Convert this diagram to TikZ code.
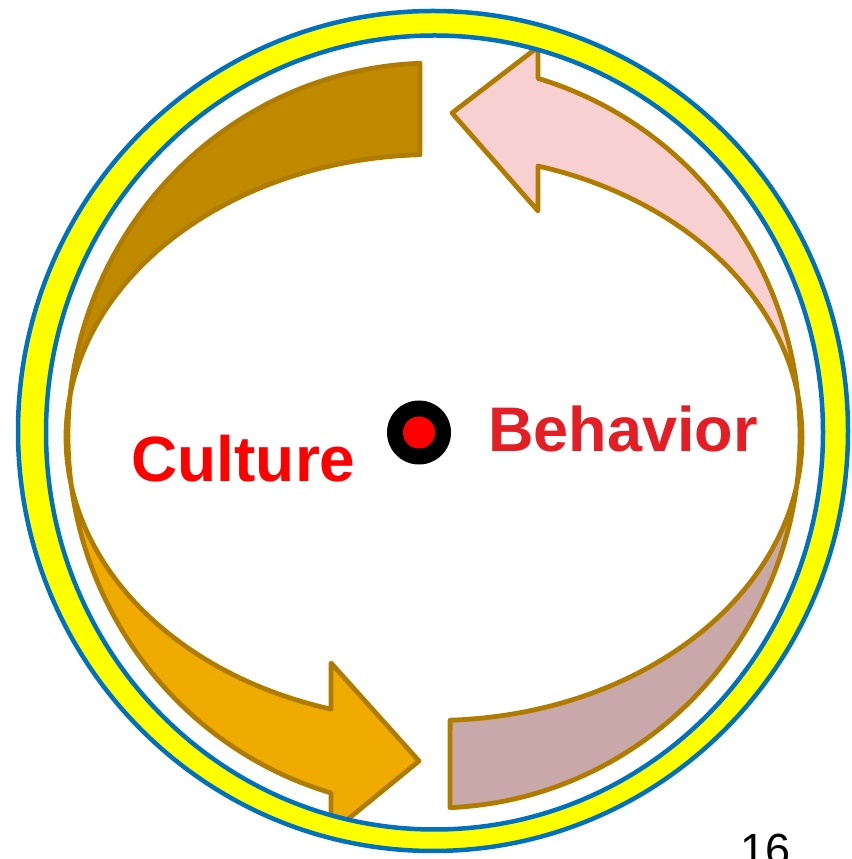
\documentclass[tikz,border=0pt]{standalone}
\usepackage{fontspec}
\setmainfont{Liberation Sans}
\usetikzlibrary{calc}

\definecolor{ringyellow}{HTML}{FFFF00}
\definecolor{ringblue}{HTML}{0070C0}
\definecolor{edgegold}{HTML}{B07C00}
\definecolor{darkgold}{HTML}{C08A00}
\definecolor{amber}{HTML}{F0AB00}
\definecolor{blush}{HTML}{F8D0D2}
\definecolor{mauve}{HTML}{C8A8A8}
\definecolor{culturered}{HTML}{FF0000}
\definecolor{behavred}{HTML}{E31E24}

\tikzset{
  piece/.style={draw=edgegold, line width=4.8pt, line join=round},
  ringline/.style={draw=ringblue, line width=4.5pt},
  label/.style={inner sep=0pt, anchor=base, font=\bfseries},
}

\begin{document}
\begin{tikzpicture}[x=1pt, y=1pt]
  \useasboundingbox (0,0) rectangle (851,859);

  % centres of the outer and inner arrow edges
  \coordinate (oc) at (434,423.5);
  \coordinate (ic) at (434,421.5);

  % upper left band
  \path[piece, fill=darkgold]
    ($(oc)+(92.19:366 and 372.5)$) arc[start angle=92.19, end angle=180, x radius=366, y radius=372.5]
    -- ($(ic)+(180:368 and 283)$) arc[start angle=180, end angle=92.18, x radius=368, y radius=283]
    -- cycle;

  % lower left arrow
  \path[piece, fill=amber]
    ($(oc)+(180:366 and 372.5)$) arc[start angle=180, end angle=253.66, x radius=366, y radius=372.5]
    -- (331,26) -- (419,98) -- (331,196)
    -- ($(ic)+(253.75:368 and 283)$) arc[start angle=253.75, end angle=180, x radius=368, y radius=283]
    -- cycle;

  % lower right band
  \path[piece, fill=mauve]
    ($(oc)+(272.5:366 and 372.5)$) arc[start angle=272.5, end angle=360, x radius=366, y radius=372.5]
    -- ($(ic)+(360:368 and 283)$) arc[start angle=360, end angle=272.51, x radius=368, y radius=283]
    -- cycle;

  % upper right arrow
  \path[piece, fill=blush]
    ($(oc)+(0:366 and 372.5)$) arc[start angle=0, end angle=73.49, x radius=366, y radius=372.5]
    -- (538,812) -- (452,746) -- (538,648)
    -- ($(ic)+(73.58:368 and 283)$) arc[start angle=73.58, end angle=0, x radius=368, y radius=283]
    -- cycle;

  % yellow ring with blue edges
  \path[fill=ringyellow, even odd rule]
    (433,428) ellipse[x radius=415, y radius=420]
    (434.5,426.5) ellipse[x radius=388.5, y radius=397];
  \draw[ringline] (433,428) ellipse[x radius=415, y radius=420];
  \draw[ringline] (434.5,426.5) ellipse[x radius=388.5, y radius=397];

  % centre dot
  \fill[black] (419,426.5) circle[radius=32];
  \fill[culturered] (419,426.5) circle[radius=16];

  % labels
  \node[label, text=culturered, font=\bfseries\fontsize{64}{64}\selectfont] (culture) at (243.5,377) {Culture};
  \node[label, text=behavred, font=\bfseries\fontsize{63}{63}\selectfont] (behavior) at (623,407) {Behavior};
  \node[inner sep=0pt, anchor=base west, font=\fontsize{45}{45}\selectfont] (page) at (740,-6) {16};
\end{tikzpicture}
\end{document}
